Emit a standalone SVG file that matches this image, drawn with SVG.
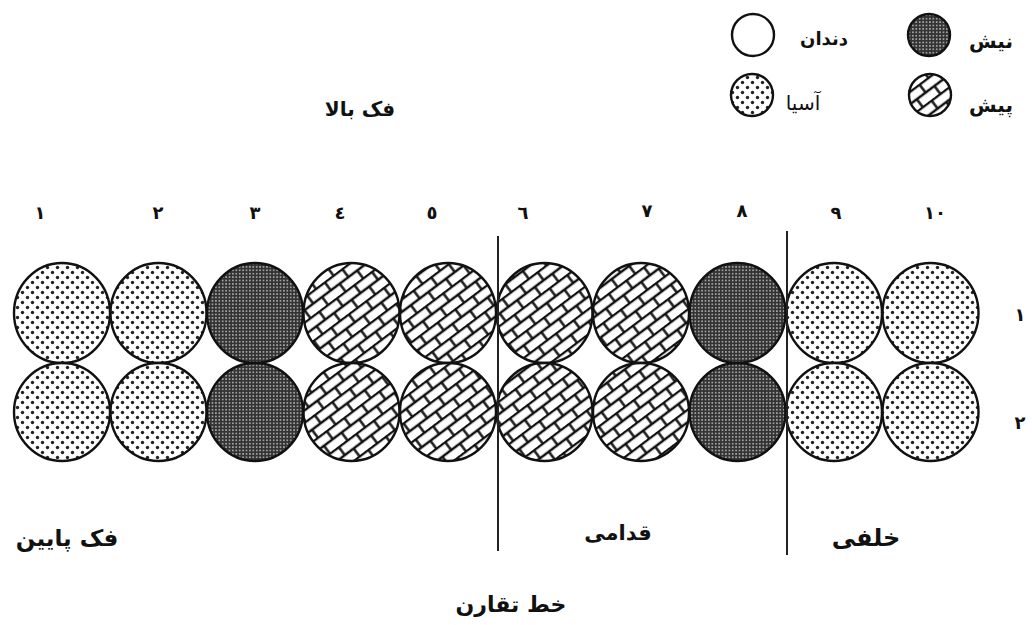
<svg xmlns="http://www.w3.org/2000/svg" width="1032" height="625" viewBox="0 0 1032 625">
<defs>
<pattern id="dots" width="10" height="10" patternUnits="userSpaceOnUse">
<rect width="10" height="10" fill="#fff"/>
<circle cx="2.5" cy="2.5" r="1.7" fill="#222"/>
<circle cx="7.5" cy="7.5" r="1.7" fill="#222"/>
</pattern>
<pattern id="dark" width="3.4" height="3.4" patternUnits="userSpaceOnUse">
<rect width="3.4" height="3.4" fill="#333"/>
<circle cx="1.7" cy="1.7" r="0.8" fill="#d0d0d0"/>
</pattern>
<pattern id="brick" width="22" height="20" patternUnits="userSpaceOnUse" patternTransform="rotate(-37)">
<rect width="22" height="20" fill="#fff"/>
<path d="M0 1H22M0 11H22M1.5 1V11M12.5 11V21" stroke="#111" stroke-width="2.4" fill="none"/>
</pattern>
<style>
.t{stroke:#111;stroke-width:2.4}
.lab{font-family:"DejaVu Sans",sans-serif;font-size:20px;fill:#111;font-weight:bold}
.num{font-family:"DejaVu Sans",sans-serif;font-size:18px;fill:#111;text-anchor:middle;font-weight:bold}
.sep{stroke:#222;stroke-width:2}
</style>
</defs>
<rect width="1032" height="625" fill="#fff"/>

<g id="legend">
<circle cx="753" cy="35" r="21" fill="#fff" class="t"/>
<text x="824" y="45" class="lab" text-anchor="middle" style="font-size:18px">دندان</text>
<circle cx="929" cy="35" r="21" fill="url(#dark)" class="t"/>
<text x="991" y="48" class="lab" text-anchor="middle">نیش</text>
<circle cx="752" cy="95" r="21" fill="url(#dots)" class="t"/>
<text x="803" y="110" class="lab" text-anchor="middle" style="font-weight:normal">آسیا</text>
<circle cx="930" cy="95" r="21" fill="url(#brick)" class="t"/>
<text x="991" y="112" class="lab" text-anchor="middle">پیش</text>
</g>

<g id="title-upper"><text x="360" y="116" class="lab" text-anchor="middle">فک بالا</text></g>

<g id="col-numbers">
<text x="40" y="219" class="num">١</text>
<text x="158" y="219" class="num">٢</text>
<text x="255" y="219" class="num">٣</text>
<text x="340" y="219" class="num">٤</text>
<text x="432" y="219" class="num">٥</text>
<text x="523" y="219" class="num">٦</text>
<text x="647" y="217" class="num">٧</text>
<text x="742" y="217" class="num">٨</text>
<text x="836" y="219" class="num">٩</text>
<text x="935" y="219" class="num">١٠</text>
</g>
<g id="row-numbers">
<text x="1020" y="321" class="num">١</text>
<text x="1020" y="429" class="num">٢</text>
</g>

<g id="row1">
<ellipse cx="62" cy="313" rx="48" ry="50" fill="url(#dots)" class="t"/>
<ellipse cx="158.5" cy="313" rx="48" ry="50" fill="url(#dots)" class="t"/>
<ellipse cx="255" cy="313" rx="48" ry="50" fill="url(#dark)" class="t"/>
<ellipse cx="351.5" cy="313" rx="48" ry="50" fill="url(#brick)" class="t"/>
<ellipse cx="448" cy="313" rx="48" ry="50" fill="url(#brick)" class="t"/>
<ellipse cx="544.5" cy="313" rx="48" ry="50" fill="url(#brick)" class="t"/>
<ellipse cx="641" cy="313" rx="48" ry="50" fill="url(#brick)" class="t"/>
<ellipse cx="737.5" cy="313" rx="48" ry="50" fill="url(#dark)" class="t"/>
<ellipse cx="834" cy="313" rx="48" ry="50" fill="url(#dots)" class="t"/>
<ellipse cx="930.5" cy="313" rx="48" ry="50" fill="url(#dots)" class="t"/>
</g>
<g id="row2">
<ellipse cx="62" cy="412" rx="48" ry="49" fill="url(#dots)" class="t"/>
<ellipse cx="158.5" cy="412" rx="48" ry="49" fill="url(#dots)" class="t"/>
<ellipse cx="255" cy="412" rx="48" ry="49" fill="url(#dark)" class="t"/>
<ellipse cx="351.5" cy="412" rx="48" ry="49" fill="url(#brick)" class="t"/>
<ellipse cx="448" cy="412" rx="48" ry="49" fill="url(#brick)" class="t"/>
<ellipse cx="544.5" cy="412" rx="48" ry="49" fill="url(#brick)" class="t"/>
<ellipse cx="641" cy="412" rx="48" ry="49" fill="url(#brick)" class="t"/>
<ellipse cx="737.5" cy="412" rx="48" ry="49" fill="url(#dark)" class="t"/>
<ellipse cx="834" cy="412" rx="48" ry="49" fill="url(#dots)" class="t"/>
<ellipse cx="930.5" cy="412" rx="48" ry="49" fill="url(#dots)" class="t"/>
</g>

<g id="connectors">
<line x1="498" y1="236" x2="498" y2="551" class="sep"/>
<line x1="787" y1="231" x2="787" y2="555" class="sep"/>
</g>

<g id="labels-bottom">
<text x="67" y="546" class="lab" text-anchor="middle" style="font-size:23px">فک پایین</text>
<text x="618" y="540" class="lab" text-anchor="middle" style="font-size:21px">قدامی</text>
<text x="866" y="546" class="lab" text-anchor="middle" style="font-size:24px">خلفی</text>
<text x="511" y="612" class="lab" text-anchor="middle" style="font-size:22px">خط تقارن</text>
</g>
</svg>
